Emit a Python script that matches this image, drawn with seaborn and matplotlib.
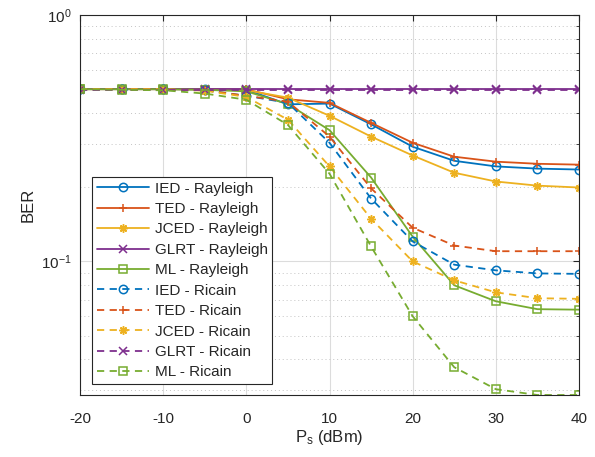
import numpy as np
import pandas as pd
import matplotlib
matplotlib.use("Agg")
import matplotlib.pyplot as plt
import seaborn as sns
from matplotlib.ticker import LogLocator, NullFormatter

# Ps (dBm)
ps = [-20, -15, -10, -5, 0, 5, 10, 15, 20, 25, 30, 35, 40]

# BER - Rayleigh
ied_ray = [0.5, 0.5, 0.5, 0.499, 0.497, 0.434, 0.437, 0.360, 0.292, 0.256, 0.243, 0.238, 0.236]
ted_ray = [0.5, 0.5, 0.5, 0.5, 0.499, 0.455, 0.440, 0.365, 0.303, 0.266, 0.254, 0.249, 0.247]
jced_ray = [0.5, 0.5, 0.5, 0.499, 0.495, 0.462, 0.390, 0.321, 0.269, 0.229, 0.211, 0.203, 0.1995]
glrt_ray = [0.5, 0.5, 0.5, 0.5, 0.5, 0.5, 0.5, 0.5, 0.5, 0.5, 0.5, 0.5, 0.5]
ml_ray = [0.5, 0.5, 0.5, 0.497, 0.490, 0.435, 0.341, 0.219, 0.126, 0.080, 0.0689, 0.064, 0.0637]

# BER - Ricain
ied_ric = [0.5, 0.5, 0.5, 0.495, 0.470, 0.440, 0.303, 0.180, 0.1205, 0.097, 0.092, 0.0894, 0.089]
ted_ric = [0.5, 0.5, 0.5, 0.495, 0.470, 0.445, 0.321, 0.198, 0.137, 0.116, 0.110, 0.110, 0.110]
jced_ric = [0.5, 0.5, 0.5, 0.493, 0.465, 0.376, 0.243, 0.149, 0.100, 0.0838, 0.0749, 0.0709, 0.0705]
glrt_ric = [0.497, 0.497, 0.497, 0.497, 0.497, 0.497, 0.497, 0.497, 0.497, 0.497, 0.497, 0.497, 0.497]
ml_ric = [0.5, 0.497, 0.495, 0.480, 0.453, 0.358, 0.227, 0.115, 0.0599, 0.0372, 0.0303, 0.0287, 0.0287]

sns.set_style('white')
plt.rcParams['font.family'] = ['Liberation Sans', 'DejaVu Sans']
plt.rcParams['axes.unicode_minus'] = False
plt.rcParams['mathtext.fontset'] = 'custom'
plt.rcParams['mathtext.rm'] = 'Liberation Sans'
plt.rcParams['mathtext.it'] = 'Liberation Sans:italic'

colors = ['#0072BD', '#D95319', '#EDB120', '#7E2F8E', '#77AC30']
markers = ['o', '+', (8, 2, 0), 'x', 's']
methods = ['IED', 'TED', 'JCED', 'GLRT', 'ML']
ray = [ied_ray, ted_ray, jced_ray, glrt_ray, ml_ray]
ric = [ied_ric, ted_ric, jced_ric, glrt_ric, ml_ric]

fig = plt.figure(figsize=(5.95, 4.57), dpi=100)
ax = fig.add_axes([80/595, 1-395/457, 499/595, 380/457])

series = []
for m, vals in zip(methods, ray):
    series.append((m + ' - Rayleigh', vals, '-'))
for m, vals in zip(methods, ric):
    series.append((m + ' - Ricain', vals, '--'))

for i, (label, vals, ls) in enumerate(series):
    c = colors[i % 5]
    mk = markers[i % 5]
    df = pd.DataFrame({'Ps': ps, 'BER': vals})
    sns.lineplot(data=df, x='Ps', y='BER', ax=ax, color=c, label=label,
                 marker=mk, markersize=6, markerfacecolor='none',
                 markeredgecolor=c, markeredgewidth=1.1, linewidth=1.3,
                 linestyle=ls)
    if ls == '--':
        ax.lines[-1].set_dashes((4, 3))

ax.set_yscale('log')
ax.set_xlim(-20, 40)
ax.set_ylim(0.0287, 1)
ax.set_xticks(np.arange(-20, 41, 10))
ax.yaxis.set_major_locator(LogLocator(base=10, numticks=5))
ax.yaxis.set_minor_locator(LogLocator(base=10, subs=np.arange(2, 10), numticks=10))
ax.yaxis.set_minor_formatter(NullFormatter())

ax.grid(which='major', color='#dcdcdc', linestyle='-', linewidth=0.8)
ax.grid(which='minor', axis='y', color='#c4c4c4', linestyle=(0, (1, 3)), linewidth=0.7)
ax.set_axisbelow(True)

for s in ax.spines.values():
    s.set_color('#262626')
    s.set_linewidth(0.8)
ax.tick_params(which='both', direction='in', top=True, right=True,
               colors='#262626', labelsize=11)
ax.tick_params(which='major', length=4)
ax.tick_params(which='minor', length=2.5)
ax.tick_params(axis='x', which='major', pad=12)
ax.tick_params(axis='y', which='major', pad=6)

ax.set_xlabel(r'P$_\mathrm{s}$ (dBm)', fontsize=12, color='#262626', labelpad=2)
ax.set_ylabel('BER', fontsize=12, color='#262626')

leg = ax.legend(loc='lower left', bbox_to_anchor=(0.024, 0.029), borderaxespad=0,
                fontsize=11, handlelength=3.4, handletextpad=0.4, labelspacing=0.42,
                borderpad=0.3, fancybox=False, framealpha=1, edgecolor='#262626',
                numpoints=1)
leg.get_frame().set_linewidth(0.8)

fig.savefig('out.png', dpi=100)
